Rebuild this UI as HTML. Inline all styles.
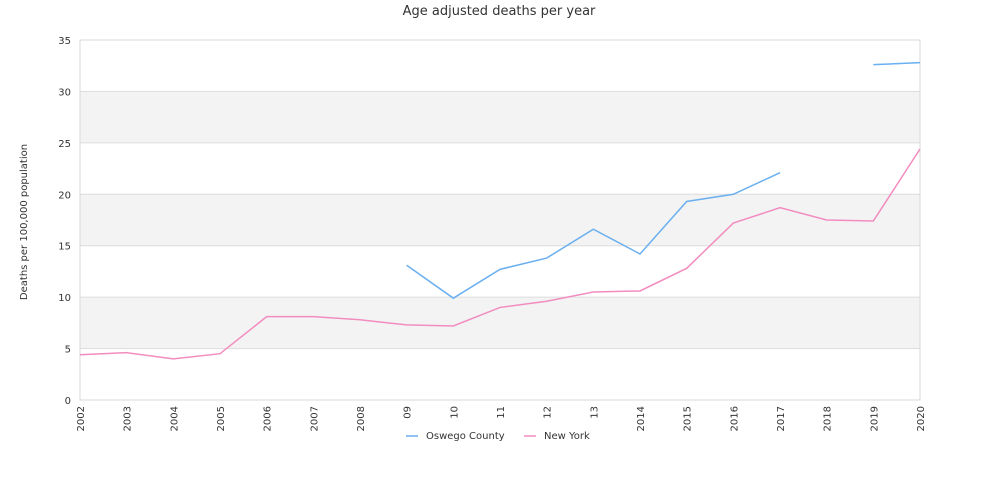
<!DOCTYPE html>
<html><head><meta charset="utf-8"><style>
body{margin:0;background:#fff;font-family:"DejaVu Sans",sans-serif;}
svg text{font-family:"DejaVu Sans",sans-serif;fill:#333;}
</style></head><body>
<svg id="chart" width="1000" height="500">
<text x="499" y="15" text-anchor="middle" font-size="13">Age adjusted deaths per year</text>
<g id="bands"></g><g id="grid"></g><g id="axes"></g><g id="lines"></g>
<text transform="translate(27,222) rotate(-90)" text-anchor="middle" font-size="10">Deaths per 100,000 population</text>
<g>
<line x1="406" y1="436" x2="418" y2="436" stroke="#6aaff0" stroke-width="1.5"/>
<text x="426" y="439" font-size="10">Oswego County</text>
<line x1="524" y1="436" x2="536" y2="436" stroke="#f28cbf" stroke-width="1.5"/>
<text x="544" y="439" font-size="10">New York</text>
</g>
</svg>
<script>
const categories=["2002","2003","2004","2005","2006","2007","2008","09","10","11","12","13","2014","2015","2016","2017","2018","2019","2020"];
const oswego=[null,null,null,null,null,null,null,13.1,9.9,12.7,13.8,16.6,14.2,19.3,20.0,22.1,null,32.6,32.8];
const newYork=[4.4,4.6,4.0,4.5,8.1,8.1,7.8,7.3,7.2,9.0,9.6,10.5,10.6,12.8,17.2,18.7,17.5,17.4,24.4];
const yTicks=[0,5,10,15,20,25,30,35];
const L=80,R=920,T=40,B=400,yMax=35;
const NS="http://www.w3.org/2000/svg";
const xs=i=>L+i*(R-L)/(categories.length-1);
const ys=v=>B-v*(B-T)/yMax;
function mk(tag,attrs,parent){const e=document.createElementNS(NS,tag);for(const k in attrs)e.setAttribute(k,attrs[k]);document.getElementById(parent).appendChild(e);return e;}
for(let i=0;i<yTicks.length-1;i++){
 if(i%2===1){const r=mk('rect',{x:L,y:ys(yTicks[i+1]),width:R-L,height:ys(yTicks[i])-ys(yTicks[i+1]),fill:'#f3f3f3'},'bands');
 
 }
}
yTicks.forEach(t=>{
 const g=mk('line',{x1:L,x2:R,y1:ys(t),y2:ys(t),stroke:'#dddddd'},'grid');
 
 
 const tx=mk('text',{x:L-9,y:ys(t)+4,'text-anchor':'end','font-size':'10'},'axes');tx.textContent=t;
 
 
});
const fr=mk('rect',{x:L,y:T,width:R-L,height:B-T,fill:'none',stroke:'#d8d8d8'},'axes');


categories.forEach((c,i)=>{
 const tx=mk('text',{transform:`translate(${xs(i)+4},${B+6}) rotate(-90)`,'text-anchor':'end','font-size':'10'},'axes');tx.textContent=c;
 
 
});
function draw(arr,color,name){
 let segs=[],cur=[];
 arr.forEach((v,i)=>{if(v==null){if(cur.length)segs.push(cur);cur=[];}else cur.push([xs(i),ys(v)]);});
 if(cur.length)segs.push(cur);
 segs.forEach(s=>{const p=mk('polyline',{points:s.map(q=>q.join(',')).join(' '),fill:'none',stroke:color,'stroke-width':1.5},'lines');
 
 });
}
draw(newYork,'#f28cbf','series-new-york');
draw(oswego,'#6aaff0','series-oswego-county');
</script>
</body></html>
